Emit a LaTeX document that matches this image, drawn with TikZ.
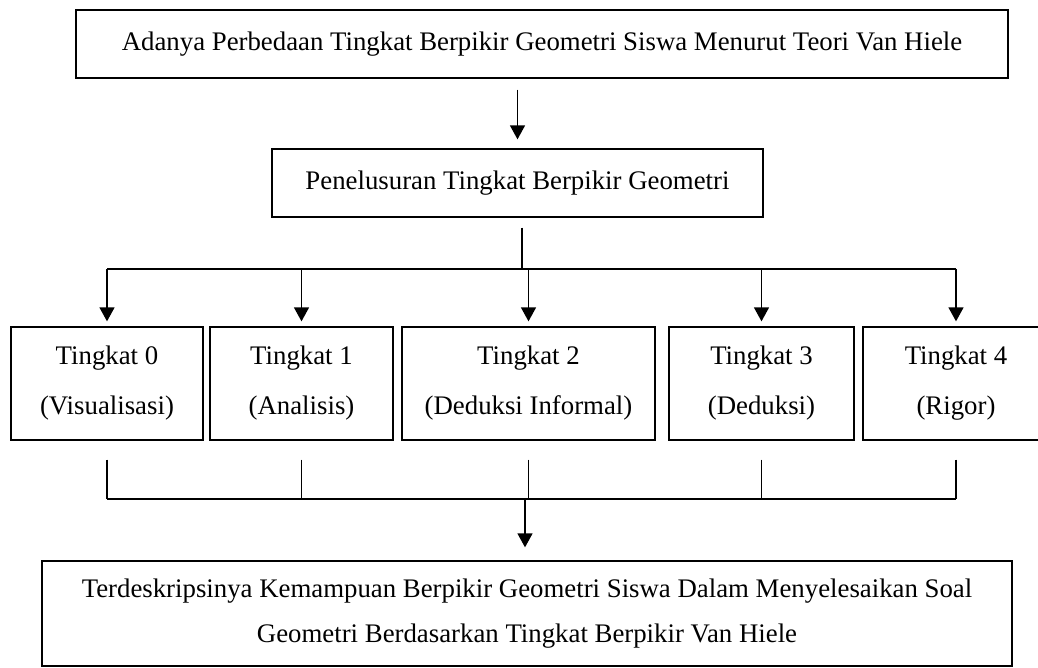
\documentclass[tikz,border=0pt]{standalone}
\usepackage{fontspec}
\setmainfont{Liberation Serif}
\usetikzlibrary{arrows.meta,calc}

\begin{document}
\begin{tikzpicture}[x=.5pt,y=-.5pt,
  box/.style={draw,line width=.65pt,inner sep=0pt,align=center,
    font=\fontsize{13.4}{25}\selectfont},
  level/.style={box,minimum height=56.5pt},
  link/.style={line width=.7pt},
  arr/.style={link,-{Triangle[width=7.5pt,length=7pt]}}]
\useasboundingbox (0,0) rectangle (1038,668);
\clip (0,0) rectangle (1038,668);

\node[box,minimum width=466pt,minimum height=34pt] (teori) at (542,44)
  {Adanya Perbedaan Tingkat Berpikir Geometri Siswa Menurut Teori Van Hiele};
\node[box,minimum width=245.5pt,minimum height=34pt] (telusur) at (517.5,183)
  {Penelusuran Tingkat Berpikir Geometri};

\node[level,minimum width=96pt] (tk0) at (107,383.5) {Tingkat 0\\(Visualisasi)};
\node[level,minimum width=91.5pt] (tk1) at (301.5,383.5) {Tingkat 1\\(Analisis)};
\node[level,minimum width=126.5pt] (tk2) at (528.5,383.5) {Tingkat 2\\(Deduksi Informal)};
\node[level,minimum width=92.5pt] (tk3) at (761.5,383.5) {Tingkat 3\\(Deduksi)};
\node[level,minimum width=93pt] (tk4) at (956,383.5) {Tingkat 4\\(Rigor)};

\node[box,minimum width=485pt,minimum height=52.5pt,
  font=\fontsize{13.4}{22.5}\selectfont] (hasil) at (527,613.5)
  {Terdeskripsinya Kemampuan Berpikir Geometri Siswa Dalam Menyelesaikan Soal\\
   Geometri Berdasarkan Tingkat Berpikir Van Hiele};

\coordinate (bagi) at (522,269);
\coordinate (gabung) at (525,499);

\draw[arr,shorten <=5.5pt,shorten >=4.5pt] (teori.south -| telusur.north) -- (telusur.north);
\draw[link,shorten <=5pt] (telusur.south -| bagi) -- (bagi);
\draw[link] (bagi -| tk0) -- (bagi -| tk4);
\foreach \i in {0,...,4}
  \draw[arr,shorten >=2.5pt] (bagi -| tk\i.north) -- (tk\i.north);

\foreach \i in {0,...,4}
  \draw[link,shorten <=9.5pt] (tk\i.south) -- (gabung -| tk\i.south);
\draw[link] (gabung -| tk0) -- (gabung -| tk4);
\draw[arr,shorten >=6.5pt] (gabung) -- (gabung |- hasil.north);

\end{tikzpicture}
\end{document}
